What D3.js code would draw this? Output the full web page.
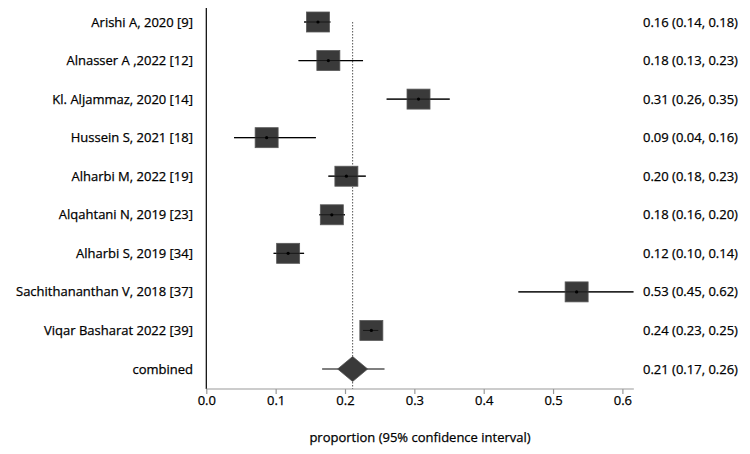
<!DOCTYPE html>
<html>
<head>
<meta charset="utf-8">
<script src="https://cdn.jsdelivr.net/npm/d3@7/dist/d3.min.js"></script>
<style>
body{margin:0;background:#fff;}
svg{display:block;font-family:"Open Sans",sans-serif;}
text{stroke:#000;stroke-width:0.25px;}
</style>
</head>
<body>
<svg id="chart" width="750" height="454"></svg>
<script>
const studies = ["Arishi A, 2020 [9]","Alnasser A ,2022 [12]","Kl. Aljammaz, 2020 [14]","Hussein S, 2021 [18]","Alharbi M, 2022 [19]","Alqahtani N, 2019 [23]","Alharbi S, 2019 [34]","Sachithananthan V, 2018 [37]","Viqar Basharat 2022 [39]"];
const estimates = [0.161,0.176,0.306,0.087,0.202,0.181,0.118,0.534,0.238];
const lower = [0.141,0.133,0.260,0.040,0.176,0.163,0.097,0.450,0.226];
const upper = [0.179,0.226,0.351,0.158,0.230,0.200,0.141,0.616,0.248];
const ciLabels = ["0.16 (0.14, 0.18)","0.18 (0.13, 0.23)","0.31 (0.26, 0.35)","0.09 (0.04, 0.16)","0.20 (0.18, 0.23)","0.18 (0.16, 0.20)","0.12 (0.10, 0.14)","0.53 (0.45, 0.62)","0.24 (0.23, 0.25)"];
const combined = {label:"combined", est:0.211, lo:0.167, hi:0.257, text:"0.21 (0.17, 0.26)"};
const xTicks = [0,0.1,0.2,0.3,0.4,0.5,0.6];
const xTitle = "proportion (95% confidence interval)";

const svg = d3.select("#chart");
const x = d3.scaleLinear().domain([0,0.6]).range([206.3,622.4]);
const rows = studies.concat([combined.label]);
const y = d3.scalePoint().domain(rows).range([22,369]);
const axisY = 389;

// left vertical axis line
svg.append("line").attr("x1",x(0)).attr("x2",x(0)).attr("y1",8).attr("y2",axisY)
  .attr("stroke","#000").attr("stroke-width",1.2);

// dotted reference line at combined estimate
svg.append("line").attr("x1",x(combined.est)).attr("x2",x(combined.est))
  .attr("y1",y(studies[0])).attr("y2",axisY)
  .attr("stroke","#555").attr("stroke-width",1).attr("stroke-dasharray","1.5,1.5");

// x axis
const xAxis = d3.axisBottom(x).tickValues(xTicks).tickFormat(d3.format(".1f")).tickSize(5).tickSizeOuter(0);
const gx = svg.append("g").attr("transform",`translate(0,${axisY})`).call(xAxis);
gx.select(".domain").attr("d",`M${x(0)},0H${x(0.6165)}`).attr("stroke","#999").attr("stroke-width",1.2);
gx.selectAll(".tick line").attr("stroke","#999").attr("stroke-width",1.2);
gx.selectAll(".tick text").attr("font-family","Open Sans").attr("font-size",13).attr("fill","#000").attr("dy","0.75em").attr("y",6);

// study rows
const g = svg.append("g");
studies.forEach((s,i)=>{
  const cy = y(s);
  g.append("line").attr("x1",x(lower[i])).attr("x2",x(upper[i])).attr("y1",cy).attr("y2",cy)
    .attr("stroke","#000").attr("stroke-width",1.2);
  g.append("rect").attr("x",x(estimates[i])-11.5).attr("y",cy-10).attr("width",23).attr("height",20)
    .attr("fill","#3a3a3a").attr("stroke","#5a5a5a").attr("stroke-width",0.8);
  g.append("line").attr("x1",x(lower[i])).attr("x2",x(upper[i])).attr("y1",cy).attr("y2",cy)
    .attr("stroke","#000").attr("stroke-width",1).attr("opacity",0.6);
  g.append("circle").attr("cx",x(estimates[i])).attr("cy",cy).attr("r",1.6).attr("fill","#000");
  g.append("text").attr("x",193).attr("y",cy).attr("dy","0.35em").attr("text-anchor","end")
    .attr("font-size",13).attr("fill","#000").text(s);
  g.append("text").attr("x",643).attr("y",cy).attr("dy","0.35em").attr("text-anchor","start")
    .attr("font-size",13).attr("fill","#000").text(ciLabels[i]);
});

// combined
const cy = y(combined.label), cx = x(combined.est);
g.append("line").attr("x1",x(combined.lo)).attr("x2",x(combined.hi)).attr("y1",cy).attr("y2",cy)
  .attr("stroke","#000").attr("stroke-width",1.2);
g.append("path").attr("d",`M${cx-15},${cy}L${cx},${cy-12.5}L${cx+15},${cy}L${cx},${cy+12.5}Z`)
  .attr("fill","#3a3a3a").attr("stroke","#555").attr("stroke-width",0.8);
g.append("text").attr("x",193).attr("y",cy).attr("dy","0.35em").attr("text-anchor","end")
  .attr("font-size",13).attr("fill","#000").text(combined.label);
g.append("text").attr("x",643).attr("y",cy).attr("dy","0.35em").attr("text-anchor","start")
  .attr("font-size",13).attr("fill","#000").text(combined.text);

// x title
svg.append("text").attr("x",420).attr("y",437).attr("dy","0.35em").attr("text-anchor","middle")
  .attr("font-size",13).attr("fill","#000").text(xTitle);
</script>
</body>
</html>
